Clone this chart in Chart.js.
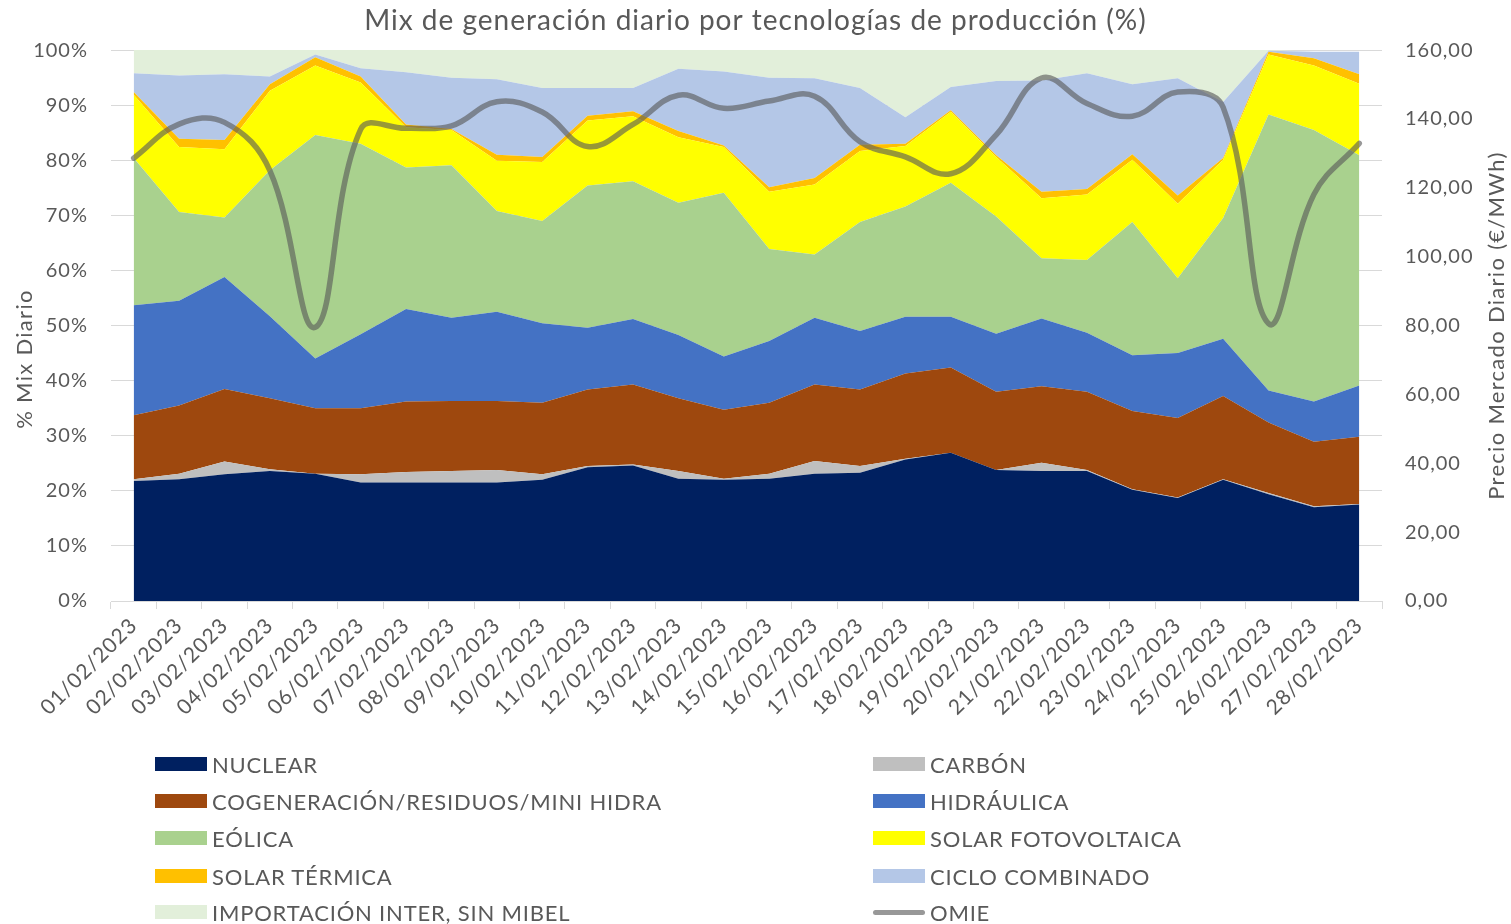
<!DOCTYPE html>
<html><head><meta charset="utf-8">
<script src="https://cdn.jsdelivr.net/npm/chart.js@4.4.0/dist/chart.umd.min.js"></script>
<style>
html,body{margin:0;padding:0;background:#fff;}
#wrap{position:relative;width:1511px;height:924px;overflow:hidden;}
canvas{position:absolute;left:0;top:0;}
#legend{position:absolute;left:0;top:0;width:1511px;height:924px;pointer-events:none;font-family:Lato, sans-serif;color:#595959;font-size:22px;letter-spacing:0.8px;}
.item{position:absolute;display:flex;align-items:center;height:30px;white-space:nowrap;}
.sw{width:52px;height:14px;margin-right:5px;}
.ln{width:52px;height:5px;border-radius:3px;margin-right:5px;}
</style></head>
<body><div id="wrap"><canvas id="c" width="1511" height="924"></canvas><div id="legend"></div></div>
<script>
const categories = ["01/02/2023","02/02/2023","03/02/2023","04/02/2023","05/02/2023","06/02/2023","07/02/2023","08/02/2023","09/02/2023","10/02/2023","11/02/2023","12/02/2023","13/02/2023","14/02/2023","15/02/2023","16/02/2023","17/02/2023","18/02/2023","19/02/2023","20/02/2023","21/02/2023","22/02/2023","23/02/2023","24/02/2023","25/02/2023","26/02/2023","27/02/2023","28/02/2023"];

const nuclear      = [21.8,22.1,23.0,23.6,23.1,21.5,21.5,21.5,21.5,22.0,24.3,24.6,22.2,22.0,22.2,23.1,23.3,25.7,26.9,23.8,23.6,23.6,20.2,18.7,22.0,19.4,17.0,17.5];
const carbon       = [0.3,1.0,2.3,0.3,0.0,1.5,1.9,2.1,2.3,1.0,0.2,0.2,1.4,0.2,0.9,2.3,1.2,0.1,0.0,0.0,1.5,0.2,0.1,0.1,0.1,0.2,0.2,0.1];
const cogeneracion = [11.6,12.4,13.2,12.9,11.9,12.0,12.8,12.7,12.5,13.0,13.9,14.5,13.2,12.5,12.9,13.9,13.9,15.5,15.5,14.2,13.9,14.2,14.2,14.4,15.1,12.8,11.7,12.2];
const hidraulica   = [20.0,19.0,20.3,14.9,9.0,13.4,16.8,15.1,16.2,14.4,11.2,11.9,11.5,9.7,11.2,12.1,10.6,10.3,9.2,10.5,12.3,10.7,10.1,11.8,10.4,5.8,7.3,9.3];
const eolica       = [26.7,16.1,10.8,26.5,40.6,34.6,25.7,27.7,18.3,18.6,25.8,25.0,24.0,29.7,16.7,11.5,19.8,20.0,24.3,21.3,10.9,13.2,24.2,13.6,21.9,50.1,49.3,41.8];
const solarFV      = [11.5,11.8,12.4,14.4,12.6,11.1,7.3,6.4,9.1,10.7,11.8,11.8,11.9,8.3,10.4,12.7,12.9,11.0,12.9,10.8,10.9,11.9,11.3,13.5,10.6,10.9,11.7,13.0];
const solarTermica = [0.5,1.5,1.7,1.2,1.5,1.1,0.5,0.2,1.1,0.9,0.9,0.9,1.1,0.3,0.8,1.2,1.1,0.4,0.3,0.3,1.2,1.0,1.0,1.5,0.3,0.5,1.3,1.7];
const cicloComb    = [3.4,11.5,11.9,1.4,0.5,1.5,9.5,9.3,13.7,12.5,5.0,4.2,11.3,13.4,19.9,18.1,10.3,4.8,4.2,13.5,20.2,21.0,12.7,21.3,10.2,0.2,1.2,4.1];
const importacion  = [4.2,4.6,4.4,4.8,0.8,3.3,4.0,5.0,5.3,6.9,6.9,6.9,3.4,3.9,5.0,5.1,6.9,12.2,6.7,5.6,5.5,4.2,6.2,5.1,9.4,0.1,0.0,0.0];
const omie         = [128.6,138.5,139.0,125.0,79.5,137.0,137.3,138.0,145.0,142.0,132.0,138.4,146.9,143.1,145.2,146.6,133.4,129.0,124.1,135.4,151.9,144.5,140.8,147.8,143.4,80.6,118.1,132.9];

const FONT = "Lato, 'Noto Sans', sans-serif";
const TXT = '#595959';
const GRID = '#d9d9d9';

const areaSeries = [
  {label:'NUCLEAR', data:nuclear, color:'#002060'},
  {label:'CARBÓN', data:carbon, color:'#BFBFBF'},
  {label:'COGENERACIÓN/RESIDUOS/MINI HIDRA', data:cogeneracion, color:'#9E480E'},
  {label:'HIDRÁULICA', data:hidraulica, color:'#4472C4'},
  {label:'EÓLICA', data:eolica, color:'#A9D18E'},
  {label:'SOLAR FOTOVOLTAICA', data:solarFV, color:'#FFFF00'},
  {label:'SOLAR TÉRMICA', data:solarTermica, color:'#FFC000'},
  {label:'CICLO COMBINADO', data:cicloComb, color:'#B4C7E7'},
  {label:'IMPORTACIÓN INTER, SIN MIBEL', data:importacion, color:'#E2EFDA'}
];
const omieColor = 'rgba(89,89,89,0.62)';

const datasets = [{
  label:'OMIE', data:omie, yAxisID:'y1', type:'line',
  borderColor:omieColor, borderWidth:5.5, pointRadius:0, tension:0.4, fill:false,
  borderCapStyle:'round', borderJoinStyle:'round'
}];
areaSeries.forEach((s,i)=>{
  datasets.push({
    label:s.label, data:s.data, yAxisID:'y', type:'line',
    backgroundColor:s.color, borderColor:s.color, borderWidth:0,
    pointRadius:0, tension:0, fill: i===0 ? 'origin' : '-1'
  });
});

const spacing = {
  id:'spacing',
  beforeUpdate(chart){ chart.ctx.letterSpacing = '1px'; },
  beforeLayout(chart){ chart.ctx.letterSpacing = '1px'; },
  beforeDraw(chart){ chart.ctx.letterSpacing = '1px'; }
};

const axisTitles = {
  id:'axisTitles',
  afterDraw(chart){
    const {ctx, chartArea} = chart;
    const draw = (txt, x, y) => {
      ctx.save();
      ctx.translate(x, y);
      ctx.rotate(-Math.PI/2);
      ctx.font = '22px ' + FONT;
      ctx.letterSpacing = '1.3px';
      ctx.fillStyle = TXT;
      ctx.textAlign = 'center';
      ctx.textBaseline = 'middle';
      ctx.fillText(txt, 0, 0);
      ctx.restore();
    };
    draw('% Mix Diario', 25, 359);
    draw('Precio Mercado Diario (€/MWh)', 1497, (chartArea.top+chartArea.bottom)/2);
  }
};

new Chart(document.getElementById('c'), {
  type:'line',
  data:{labels:categories, datasets},
  plugins:[spacing, axisTitles],
  options:{
    responsive:false, animation:false, devicePixelRatio:1,
    layout:{padding:{left:0,right:0,top:0,bottom:183}},
    plugins:{
      legend:{display:false},
      tooltip:{enabled:false},
      title:{display:true, text:'Mix de generación diario por tecnologías de producción (%)',
        color:TXT, font:{family:FONT, size:28, weight:'normal'}, padding:{top:4,bottom:12.5}}
    },
    scales:{
      x:{
        offset:true,
        grid:{offset:true, drawOnChartArea:false, color:GRID, tickLength:8},
        border:{color:GRID},
        ticks:{color:TXT, font:{family:FONT,size:21}, minRotation:45, maxRotation:45, autoSkip:false, padding:4},
        afterFit(s){ s.height = 140; }
      },
      y:{
        position:'left', stacked:true, min:0, max:100,
        ticks:{stepSize:10, color:TXT, font:{family:FONT,size:20}, padding:23, callback:v=>v+'%'},
        grid:{color:GRID, drawTicks:false},
        border:{display:false},
        afterFit(s){ s.width = 111; }
      },
      y1:{
        position:'right', min:0, max:160,
        ticks:{stepSize:20, color:TXT, font:{family:FONT,size:20}, padding:23, callback:v=>v.toFixed(2).replace('.',',')},
        grid:{display:false, drawTicks:false},
        border:{display:false},
        afterFit(s){ s.width = 129; }
      }
    }
  }
});

// HTML legend, two columns
const legendItems = areaSeries.map(s=>({label:s.label,color:s.color,line:false}));
legendItems.push({label:'OMIE', color:omieColor, line:true});
const leg = document.getElementById('legend');
const colX = [155, 873];
const rowY = [764, 801, 838, 876, 912];
legendItems.forEach((it,i)=>{
  const d = document.createElement('div');
  d.className = 'item';
  d.style.left = colX[i%2] + 'px';
  d.style.top = (rowY[Math.floor(i/2)] - 15) + 'px';
  const sw = document.createElement('span');
  sw.className = it.line ? 'ln' : 'sw';
  sw.style.background = it.color;
  const t = document.createElement('span');
  t.textContent = it.label;
  d.appendChild(sw); d.appendChild(t);
  leg.appendChild(d);
});
</script>
</body></html>
